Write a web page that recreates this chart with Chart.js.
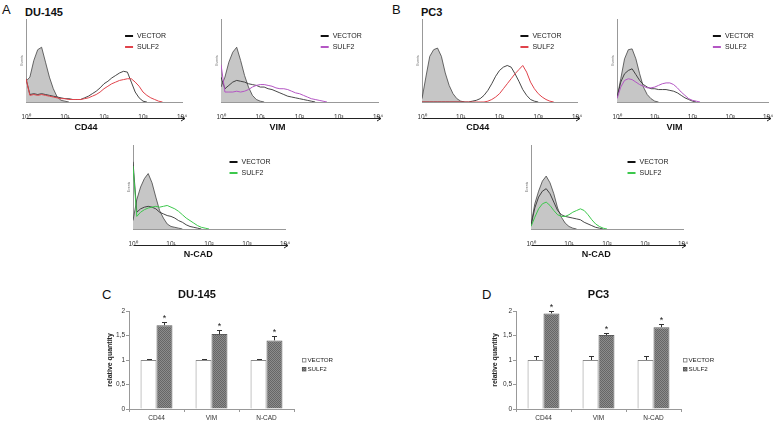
<!DOCTYPE html>
<html>
<head>
<meta charset="utf-8">
<script src="https://cdn.jsdelivr.net/npm/chart.js@4.4.1/dist/chart.umd.min.js"></script>
<style>
  body { margin: 0; background: #fff; width: 778px; height: 424px; position: relative; overflow: hidden;
         font-family: Arial, "Liberation Sans", sans-serif; }
  canvas { position: absolute; }
  .tag { position: absolute; color: #111; line-height: 1; white-space: nowrap; }
  .cell { font-weight: bold; font-size: 11px; }
</style>
</head>
<body>
<div class="tag" style="left:2px;top:3px;font-size:13px">A</div>
<div class="tag cell" style="left:25px;top:7px">DU-145</div>
<div class="tag" style="left:392px;top:3px;font-size:13px">B</div>
<div class="tag cell" style="left:421px;top:7px">PC3</div>
<div class="tag" style="left:102px;top:288px;font-size:13px">C</div>
<div class="tag" style="left:482px;top:288px;font-size:13px">D</div>

<canvas id="du145Cd44"></canvas>
<canvas id="du145Vim"></canvas>
<canvas id="du145Ncad"></canvas>
<canvas id="pc3Cd44"></canvas>
<canvas id="pc3Vim"></canvas>
<canvas id="pc3Ncad"></canvas>
<canvas id="du145Bars"></canvas>
<canvas id="pc3Bars"></canvas>

<script>
// --- flow cytometry histograms: log10 fluorescence bins, % of max events ---
const logBins = [0, 0.1, 0.2, 0.3, 0.4, 0.5, 0.6, 0.7, 0.8, 0.9, 1.0, 1.1, 1.2, 1.3, 1.4, 1.5, 1.6, 1.7, 1.8, 1.9,
                 2.0, 2.1, 2.2, 2.3, 2.4, 2.5, 2.6, 2.7, 2.8, 2.9, 3.0, 3.1, 3.2, 3.3, 3.4, 3.5, 3.6, 3.7, 3.8, 3.9, 4.0];
const decades = [1, 10, 100, 1000, 10000];
const decadeLabels = ['10⁰', '10¹', '10²', '10³', '10⁴'];

// DU-145
const du145Cd44Iso    = [25, 30, 50, 63, 66, 48, 30, 16, 6, 2, 1, 0];
const du145Cd44Vector = [28, 9, 10, 9, 10, 9, 8, 7, 6, 5, 4, 4, 3, 3, 3, 5, 7, 10, 13, 17, 22, 25, 29, 32, 35, 37, 36, 24, 12, 5, 1, 0];
const du145Cd44Sulf2  = [28, 8, 9, 8, 9, 8, 7, 6, 5, 4, 4, 3, 3, 3, 3, 4, 5, 7, 9, 12, 16, 19, 22, 24, 26, 27, 28, 28, 24, 19, 12, 8, 5, 3, 1, 0];

const du145VimIso    = [18, 30, 48, 60, 66, 50, 32, 18, 8, 3, 1, 0];
const du145VimVector = [30, 16, 20, 24, 26, 25, 24, 22, 21, 20, 18, 18, 16, 15, 13, 11, 9, 7, 6, 5, 4, 3, 2, 1, 0];
const du145VimSulf2  = [45, 12, 12, 12, 13, 12, 13, 15, 18, 20, 21, 21, 20, 19, 17, 16, 16, 15, 13, 11, 10, 8, 6, 4, 3, 2, 1, 0];

const du145NcadIso    = [10, 35, 50, 60, 66, 55, 38, 22, 13, 6, 3, 2, 1, 0];
const du145NcadVector = [80, 20, 24, 26, 27, 26, 24, 20, 18, 16, 15, 13, 10, 8, 5, 3, 2, 1, 0];
const du145NcadSulf2  = [75, 15, 20, 23, 25, 26, 27, 26, 27, 28, 26, 24, 21, 17, 13, 10, 7, 4, 2, 1, 0];

// PC3
const pc3Cd44Iso    = [4, 30, 55, 63, 65, 55, 35, 20, 10, 4, 1, 0];
const pc3Cd44Vector = [0, 0, 0, 0, 0, 0, 0, 0, 0, 0, 0, 0, 0, 1, 2, 4, 8, 14, 22, 31, 38, 42, 44, 42, 34, 25, 15, 8, 3, 1, 0];
const pc3Cd44Sulf2  = [0, 0, 0, 0, 0, 0, 0, 0, 0, 0, 0, 0, 0, 0, 0, 0, 0, 1, 3, 6, 10, 16, 22, 28, 34, 39, 44, 36, 24, 16, 10, 6, 3, 1, 0];

const pc3VimIso    = [5, 28, 52, 63, 64, 52, 34, 18, 9, 4, 1, 0];
const pc3VimVector = [5, 24, 34, 38, 40, 33, 26, 21, 18, 16, 16, 15, 15, 15, 14, 13, 11, 8, 5, 3, 1, 0];
const pc3VimSulf2  = [4, 18, 26, 28, 27, 24, 21, 19, 17, 17, 18, 20, 22, 23, 23, 21, 17, 12, 8, 4, 2, 1, 0];

const pc3NcadIso    = [5, 30, 45, 57, 63, 55, 42, 25, 14, 7, 3, 1, 0];
const pc3NcadVector = [4, 25, 38, 45, 48, 42, 32, 22, 17, 15, 14, 13, 12, 11, 8, 6, 4, 2, 1, 0];
const pc3NcadSulf2  = [3, 14, 24, 30, 32, 28, 22, 17, 15, 15, 17, 20, 22, 24, 22, 17, 11, 6, 3, 1, 0];

// --- qPCR bar charts ---
const genes = ['CD44', 'VIM', 'N-CAD'];
const du145Vector    = [1, 1, 1];
const du145VectorErr = [0.03, 0.03, 0.03];
const du145Sulf2     = [1.71, 1.53, 1.40];
const du145Sulf2Err  = [0.06, 0.08, 0.08];
const pc3Vector      = [1, 1, 1];
const pc3VectorErr   = [0.08, 0.08, 0.08];
const pc3Sulf2       = [1.95, 1.51, 1.67];
const pc3Sulf2Err    = [0.05, 0.05, 0.07];

Chart.defaults.font.family = 'Arial, "Liberation Sans", sans-serif';

// grey checker fill for the SULF2 bars
const tile = document.createElement('canvas');
tile.width = 2; tile.height = 2;
const tg = tile.getContext('2d');
tg.fillStyle = '#8c8c8c'; tg.fillRect(0, 0, 2, 2);
tg.fillStyle = '#666'; tg.fillRect(0, 0, 1, 1); tg.fillRect(1, 1, 1, 1);
const sulfPattern = tg.createPattern(tile, 'repeat');

// small legend drawn at a spot relative to the chart area
const keyPlugin = {
  id: 'key',
  afterDraw(chart, args, o) {
    if (!o.items) return;
    const { ctx, chartArea: a } = chart;
    const x = a.left + o.x * (a.right - a.left);
    const y0 = a.top + o.y * (a.bottom - a.top);
    ctx.save();
    ctx.font = o.font;
    ctx.textBaseline = 'middle';
    o.items.forEach((it, k) => {
      const y = Math.round(y0 + k * o.dy);
      if (o.kind === 'line') {
        ctx.strokeStyle = it.color;
        ctx.lineWidth = 2;
        ctx.beginPath(); ctx.moveTo(x, y); ctx.lineTo(x + o.len, y); ctx.stroke();
      } else {
        ctx.fillStyle = it.fill === 'pattern' ? sulfPattern : it.fill;
        ctx.fillRect(x, y - 2, 4, 4);
        ctx.strokeStyle = it.color;
        ctx.lineWidth = 0.8;
        ctx.strokeRect(x + 0.5, y - 1.5, 3.5, 3.5);
      }
      ctx.fillStyle = '#222';
      ctx.fillText(it.text, x + o.len + o.gap, y + 0.5);
    });
    ctx.restore();
  }
};

// arrow + marker name under the histogram axis
const arrowPlugin = {
  id: 'arrow',
  afterDraw(chart, args, o) {
    const { ctx, chartArea: a } = chart;
    const y = Math.round(a.bottom + o.dy) + 0.5;
    ctx.save();
    ctx.strokeStyle = '#222';
    ctx.lineWidth = 1;
    ctx.beginPath();
    ctx.moveTo(a.left + 1, y); ctx.lineTo(a.right + 3, y);
    ctx.moveTo(a.right - 1, y - 2.5); ctx.lineTo(a.right + 3, y); ctx.lineTo(a.right - 1, y + 2.5);
    ctx.stroke();
    ctx.fillStyle = '#111';
    ctx.font = 'bold 9px Arial, "Liberation Sans", sans-serif';
    ctx.textAlign = 'center';
    ctx.textBaseline = 'middle';
    ctx.fillText(o.label, a.left + o.frac * (a.right - a.left), a.bottom + o.labelDy);
    ctx.restore();
  }
};

// error bars (upper half) and significance stars
const errPlugin = {
  id: 'errbars',
  afterDatasetsDraw(chart) {
    const { ctx } = chart;
    const ys = chart.scales.y;
    chart.data.datasets.forEach((ds, di) => {
      chart.getDatasetMeta(di).data.forEach((bar, i) => {
        const top = Math.round(ys.getPixelForValue(ds.data[i] + ds.err[i])) + 0.5;
        const cx = Math.round(bar.x) + 0.5;
        ctx.save();
        ctx.strokeStyle = '#333';
        ctx.lineWidth = 1;
        ctx.beginPath();
        ctx.moveTo(cx, bar.y); ctx.lineTo(cx, top);
        ctx.moveTo(cx - 2.5, top); ctx.lineTo(cx + 2.5, top);
        ctx.stroke();
        if (ds.star) {
          ctx.fillStyle = '#222';
          ctx.font = '9px Arial, "Liberation Sans", sans-serif';
          ctx.textAlign = 'center';
          ctx.textBaseline = 'alphabetic';
          ctx.fillText('*', cx, top - 1.5);
        }
        ctx.restore();
      });
    });
  }
};

function histogram(id, area, iso, vec, sulf, sulfColor, marker, labelFrac) {
  const padL = 20, padT = 6, padR = 10, xH = 34;
  const cv = document.getElementById(id);
  cv.width = area.r - area.l + padL + padR;
  cv.height = area.b - area.t + padT + xH;
  cv.style.left = (area.l - padL) + 'px';
  cv.style.top = (area.t - padT) + 'px';
  const pts = arr => arr.map((v, i) => ({ x: Math.pow(10, logBins[i]), y: v }));
  return new Chart(cv, {
    type: 'line',
    data: {
      datasets: [
        { label: 'SULF2', data: pts(sulf), borderColor: sulfColor, borderWidth: 1, pointRadius: 0, fill: false, order: 1 },
        { label: 'VECTOR', data: pts(vec), borderColor: '#333', borderWidth: 0.9, pointRadius: 0, fill: false, order: 2 },
        { label: 'Isotype', data: pts(iso), borderColor: '#444', backgroundColor: '#c6c6c6', borderWidth: 0.8, pointRadius: 0, fill: 'origin', order: 3 }
      ]
    },
    options: {
      responsive: false,
      animation: false,
      devicePixelRatio: 1,
      layout: { padding: { left: 0, top: padT, right: padR, bottom: 0 } },
      plugins: {
        legend: { display: false },
        tooltip: { enabled: false },
        key: {
          kind: 'line', x: 0.635, y: 0.2, dy: 11, len: 8, gap: 4, font: '7px Arial, "Liberation Sans", sans-serif',
          items: [{ text: 'VECTOR', color: '#111' }, { text: 'SULF2', color: sulfColor }]
        },
        arrow: { dy: 16, label: marker, frac: labelFrac, labelDy: 26 }
      },
      scales: {
        x: {
          type: 'logarithmic', min: 1, max: 10000,
          afterBuildTicks: s => { s.ticks = decades.map(v => ({ value: v, major: true })); },
          ticks: {
            callback: v => decadeLabels[decades.indexOf(v)],
            autoSkip: false, maxRotation: 0, font: { size: 6.5 }, color: '#333', padding: 3
          },
          grid: { display: false },
          border: { color: '#999', dash: [1, 1] },
          afterFit: s => { s.height = xH; }
        },
        y: {
          min: 0, max: 100,
          ticks: { display: false },
          grid: { display: false },
          border: { color: '#999' },
          title: { display: true, text: 'Events', font: { size: 3.5 }, color: '#666', padding: { top: 14, bottom: 0 } },
          afterFit: s => { s.width = padL; }
        }
      }
    },
    plugins: [keyPlugin, arrowPlugin]
  });
}

function barChart(id, geo, title, vec, vecErr, sulf, sulfErr) {
  const cv = document.getElementById(id);
  cv.width = geo.w; cv.height = geo.h;
  cv.style.left = geo.left + 'px';
  cv.style.top = geo.top + 'px';
  return new Chart(cv, {
    type: 'bar',
    data: {
      labels: genes,
      datasets: [
        { label: 'VECTOR', data: vec, err: vecErr, backgroundColor: '#fff', borderColor: '#8a8a8a', borderWidth: 1 },
        { label: 'SULF2', data: sulf, err: sulfErr, star: true, backgroundColor: sulfPattern, borderColor: '#5c5c5c', borderWidth: 1 }
      ]
    },
    options: {
      responsive: false,
      animation: false,
      devicePixelRatio: 1,
      layout: { padding: { left: 0, top: 0, right: geo.padR, bottom: 0 } },
      datasets: { bar: { categoryPercentage: 0.58, barPercentage: 1 } },
      plugins: {
        legend: { display: false },
        tooltip: { enabled: false },
        title: {
          display: true, text: title, fullSize: geo.titleFull, color: '#111',
          font: { size: 11, weight: 'bold' }, padding: { top: 2.4, bottom: 9.4 }
        },
        key: {
          kind: 'box', x: geo.keyX, y: 0.5, dy: 9.3, len: 4, gap: 1.5, font: '6.2px Arial, "Liberation Sans", sans-serif',
          items: [{ text: 'VECTOR', color: '#777', fill: '#fff' }, { text: 'SULF2', color: '#555', fill: 'pattern' }]
        }
      },
      scales: {
        x: {
          grid: { display: true, drawOnChartArea: false, offset: true, tickLength: 3, color: '#999' },
          border: { color: '#999' },
          ticks: { font: { size: 6.5 }, color: '#333', padding: 2 },
          afterFit: s => { s.height = geo.xH; }
        },
        y: {
          min: 0, max: 2,
          ticks: { stepSize: 0.5, callback: v => String(v).replace('.', ','), font: { size: 6.5 }, color: '#333', padding: 1 },
          grid: { drawOnChartArea: false, tickLength: 3, color: '#999' },
          border: { color: '#999' },
          title: { display: true, text: 'relative quantity', color: '#222', font: { size: 7, weight: 'bold' }, padding: { top: geo.ytPad, bottom: 0 } },
          afterFit: s => { s.width = geo.yW; }
        }
      }
    },
    plugins: [errPlugin, keyPlugin]
  });
}

histogram('du145Cd44', { l: 26, r: 182, t: 19, b: 102 }, du145Cd44Iso, du145Cd44Vector, du145Cd44Sulf2, '#e0434b', 'CD44', 0.385);
histogram('du145Vim',  { l: 221, r: 378, t: 19, b: 102 }, du145VimIso, du145VimVector, du145VimSulf2, '#b456c4', 'VIM', 0.36);
histogram('pc3Cd44',   { l: 422, r: 577, t: 19, b: 102 }, pc3Cd44Iso, pc3Cd44Vector, pc3Cd44Sulf2, '#e0434b', 'CD44', 0.36);
histogram('pc3Vim',    { l: 617, r: 768, t: 19, b: 102 }, pc3VimIso, pc3VimVector, pc3VimSulf2, '#b456c4', 'VIM', 0.38);
histogram('du145Ncad', { l: 133, r: 285, t: 145, b: 229 }, du145NcadIso, du145NcadVector, du145NcadSulf2, '#3cc84c', 'N-CAD', 0.43);
histogram('pc3Ncad',   { l: 531, r: 683, t: 145, b: 229 }, pc3NcadIso, pc3NcadVector, pc3NcadSulf2, '#3cc84c', 'N-CAD', 0.43);

barChart('du145Bars', { left: 100, top: 286, w: 234, h: 138, yW: 29, padR: 40, xH: 15, ytPad: 5.8, titleFull: true, keyX: 1.048 },
  'DU-145', du145Vector, du145VectorErr, du145Sulf2, du145Sulf2Err);
barChart('pc3Bars', { left: 480, top: 286, w: 260, h: 138, yW: 36, padR: 59, xH: 15, ytPad: 10.8, titleFull: false, keyX: 1.012 },
  'PC3', pc3Vector, pc3VectorErr, pc3Sulf2, pc3Sulf2Err);
</script>
</body>
</html>
